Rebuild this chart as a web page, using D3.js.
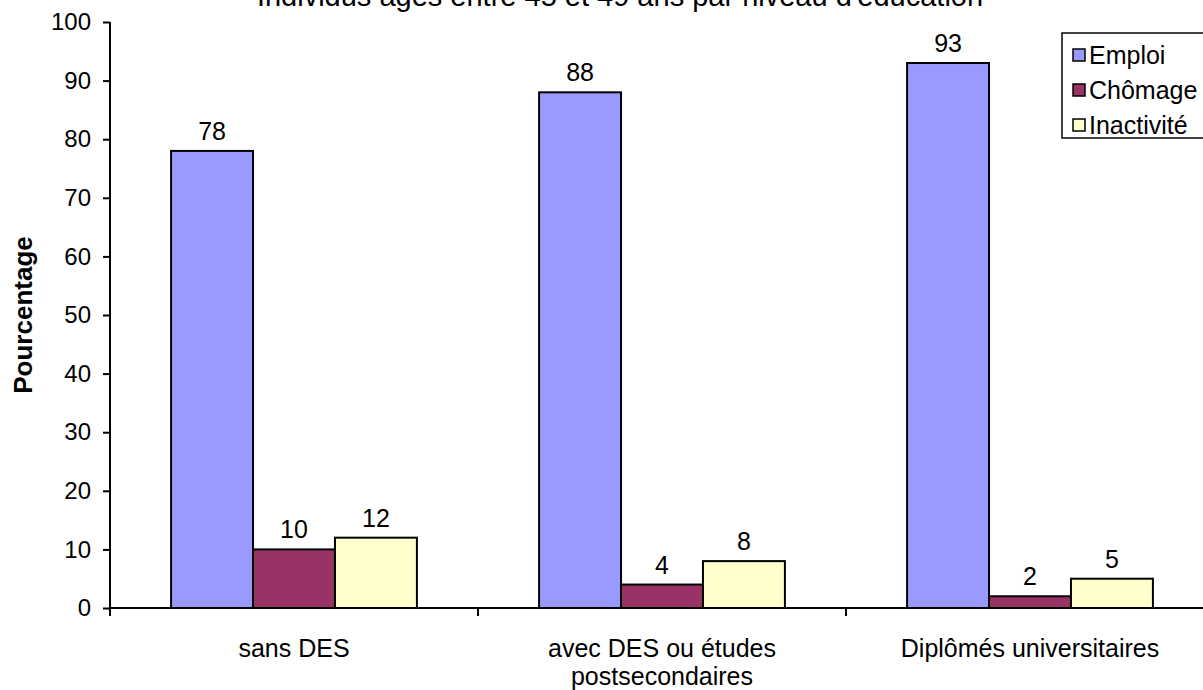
<!DOCTYPE html>
<html lang="fr">
<head>
<meta charset="utf-8">
<script src="https://cdn.jsdelivr.net/npm/d3@7"></script>
<style>
  html, body { margin: 0; padding: 0; background: #fff; }
  svg { display: block; font-family: "Liberation Sans", Arial, sans-serif; }
</style>
</head>
<body>
<svg id="chart" width="1203" height="690"></svg>
<script>
// Data
const categories = ["sans DES", "avec DES ou études postsecondaires", "Diplômés universitaires"];
const seriesNames = ["Emploi", "Chômage", "Inactivité"];
const emploi = [78, 88, 93];
const chomage = [10, 4, 2];
const inactivite = [12, 8, 5];
const yTicks = [0, 10, 20, 30, 40, 50, 60, 70, 80, 90, 100];
const seriesColors = ["#9999FF", "#993366", "#FFFFCC"];
const titleText = "Individus âgés entre 45 et 49 ans par niveau d'éducation";
const yLabel = "Pourcentage";

const seriesValues = [emploi, chomage, inactivite];

const svg = d3.select("#chart");
const fontSize = 25;

// Plot frame
const plotLeft = 110, plotRight = 1214, plotTop = 22, plotBottom = 608;

const x0 = d3.scaleBand().domain(categories).range([plotLeft, plotRight]).paddingInner(0).paddingOuter(0);
const groupFrac = 0.668;
const gOff = x0.bandwidth() * (1 - groupFrac) / 2;
const x1 = d3.scaleBand().domain(seriesNames).range([gOff, x0.bandwidth() - gOff]).padding(0);
const y = d3.scaleLinear().domain([0, 100]).range([plotBottom, plotTop]);

// Title (runs off the top edge)
svg.append("text")
  .attr("x", 620).attr("y", 6)
  .attr("text-anchor", "middle")
  .attr("font-size", 29)
  .text(titleText);

// Bars
const groups = svg.append("g").selectAll("g")
  .data(categories)
  .join("g")
  .attr("transform", d => `translate(${x0(d)},0)`);

groups.each(function(cat, ci) {
  const g = d3.select(this);
  seriesNames.forEach((s, si) => {
    const v = seriesValues[si][ci];
    g.append("rect")
      .attr("x", x1(s))
      .attr("y", y(v))
      .attr("width", x1.bandwidth())
      .attr("height", y(0) - y(v))
      .attr("fill", seriesColors[si])
      .attr("stroke", "#000")
      .attr("stroke-width", 2);
    g.append("text")
      .attr("x", x1(s) + x1.bandwidth() / 2)
      .attr("y", y(v) - 11)
      .attr("text-anchor", "middle")
      .attr("font-size", fontSize)
      .text(v);
  });
});

// Y axis
const yAxis = svg.append("g")
  .attr("transform", `translate(${plotLeft},0)`)
  .call(d3.axisLeft(y).tickValues(yTicks).tickSize(7).tickPadding(12).tickSizeOuter(0));
yAxis.select(".domain").attr("stroke", "#000").attr("stroke-width", 2)
  .attr("d", `M0,${plotTop}V${plotBottom + 8}`);
yAxis.selectAll(".tick line").attr("stroke", "#000").attr("stroke-width", 2);
yAxis.selectAll(".tick text").attr("font-size", 24).attr("font-family", "Liberation Sans, Arial, sans-serif").attr("fill", "#000");

// X axis with category separators
const xAxis = svg.append("g").attr("transform", `translate(0,${plotBottom})`);
xAxis.append("line")
  .attr("x1", plotLeft).attr("x2", plotRight)
  .attr("stroke", "#000").attr("stroke-width", 2);
xAxis.selectAll("line.sep")
  .data(categories.slice(1))
  .join("line")
  .attr("class", "sep")
  .attr("x1", d => x0(d)).attr("x2", d => x0(d))
  .attr("y1", 0).attr("y2", 8)
  .attr("stroke", "#000").attr("stroke-width", 2);

// Category labels, wrapped to fit
function wrapWords(text, maxWidth) {
  const words = text.split(" ");
  const lines = [];
  let line = "";
  const ctx = document.createElement("canvas").getContext("2d");
  ctx.font = `${fontSize}px "Liberation Sans", Arial, sans-serif`;
  words.forEach(w => {
    const test = line ? line + " " + w : w;
    if (ctx.measureText(test).width > maxWidth && line) {
      lines.push(line);
      line = w;
    } else {
      line = test;
    }
  });
  if (line) lines.push(line);
  return lines;
}

categories.forEach(cat => {
  const lines = wrapWords(cat, 320);
  const t = svg.append("text")
    .attr("text-anchor", "middle")
    .attr("font-size", fontSize);
  lines.forEach((ln, i) => {
    t.append("tspan")
      .attr("x", x0(cat) + x0.bandwidth() / 2)
      .attr("y", plotBottom + 49 + i * 28)
      .text(ln);
  });
});

// Y axis title
svg.append("text")
  .attr("transform", `translate(32,${(plotTop + plotBottom) / 2}) rotate(-90)`)
  .attr("text-anchor", "middle")
  .attr("font-size", 26)
  .attr("font-weight", "bold")
  .text(yLabel);

// Legend
const legend = svg.append("g").attr("transform", "translate(1062,33)");
legend.append("rect")
  .attr("x", 0).attr("y", 0)
  .attr("width", 160).attr("height", 105)
  .attr("fill", "#fff").attr("stroke", "#000").attr("stroke-width", 1.5);
seriesNames.forEach((s, i) => {
  const cy = 22 + i * 35;
  legend.append("rect")
    .attr("x", 11).attr("y", cy - 6)
    .attr("width", 12).attr("height", 12)
    .attr("fill", seriesColors[i])
    .attr("stroke", "#000").attr("stroke-width", 1.5);
  legend.append("text")
    .attr("x", 27).attr("y", cy + 9)
    .attr("font-size", fontSize)
    .text(s);
});
</script>
</body>
</html>
